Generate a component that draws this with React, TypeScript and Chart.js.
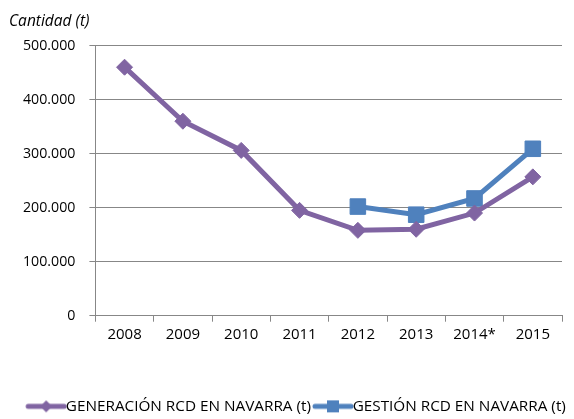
import React, { useEffect, useRef } from 'react';
import { Chart, registerables } from 'chart.js';

Chart.register(...registerables);

const categories = ['2008', '2009', '2010', '2011', '2012', '2013', '2014*', '2015'];
const generacion = [460000, 360000, 306000, 195000, 158000, 160000, 190000, 257000];
const gestion = [null, null, null, null, 202000, 187000, 217000, 309000];
const seriesNames = ['GENERACIÓN RCD EN NAVARRA (t)', 'GESTIÓN RCD EN NAVARRA (t)'];
const axisTitle = 'Cantidad (t)';

const PURPLE = '#8064A2';
const BLUE = '#4F81BD';
const GRID = '#878787';
const FONT = "'Open Sans', sans-serif";

function fmt(v: number) {
  return String(Math.round(v)).replace(/\B(?=(\d{3})+(?!\d))/g, '.');
}

function legendIcon(color: string, shape: 'diamond' | 'square') {
  const c = document.createElement('canvas');
  c.width = 56;
  c.height = 14;
  const ctx = c.getContext('2d')!;
  ctx.strokeStyle = color;
  ctx.fillStyle = color;
  ctx.lineWidth = 5;
  ctx.lineCap = 'round';
  ctx.beginPath();
  ctx.moveTo(12, 7);
  ctx.lineTo(48, 7);
  ctx.stroke();
  ctx.beginPath();
  const cx = 30;
  if (shape === 'diamond') {
    ctx.moveTo(cx - 6, 7);
    ctx.lineTo(cx, 1);
    ctx.lineTo(cx + 6, 7);
    ctx.lineTo(cx, 13);
    ctx.closePath();
  } else {
    ctx.rect(cx - 6, 1, 12, 12);
  }
  ctx.fill();
  return c;
}

const legendShift = {
  id: 'legendShift',
  afterLayout(chart: any) {
    const lg = chart.legend;
    if (lg) {
      lg.left += 12;
      lg.right += 12;
      lg.top += 5;
      lg.bottom += 5;
    }
  },
};

export default function App() {
  const ref = useRef<HTMLCanvasElement>(null);
  useEffect(() => {
    const icons = [legendIcon(PURPLE, 'diamond'), legendIcon(BLUE, 'square')];
    const chart = new Chart(ref.current!, {
      type: 'line',
      plugins: [legendShift],
      data: {
        labels: categories,
        datasets: [
          {
            label: seriesNames[0],
            data: generacion,
            borderColor: PURPLE,
            backgroundColor: PURPLE,
            borderWidth: 5,
            pointStyle: 'rectRot',
            pointRadius: 8,
            pointBorderWidth: 1,
            tension: 0,
          },
          {
            label: seriesNames[1],
            data: gestion,
            borderColor: BLUE,
            backgroundColor: BLUE,
            borderWidth: 5,
            pointStyle: 'rect',
            pointRadius: 11,
            pointBorderWidth: 1,
            tension: 0,
          },
        ],
      },
      options: {
        animation: false,
        responsive: false,
        maintainAspectRatio: false,
        layout: { padding: { left: 9, right: 11, top: 0, bottom: 0 } },
        plugins: {
          title: {
            display: true,
            text: axisTitle,
            align: 'start',
            color: '#000',
            font: { family: FONT, size: 15.5, style: 'italic', weight: 'normal' },
            padding: { top: 12, bottom: 15 },
          },
          legend: {
            position: 'bottom',
            labels: {
              usePointStyle: true,
              pointStyleWidth: 28,
              color: '#000',
              font: { family: FONT, size: 15.3 },
              padding: 6,
              generateLabels: (ch: any) =>
                ch.data.datasets.map((ds: any, i: number) => ({
                  text: ds.label,
                  pointStyle: icons[i],
                  fillStyle: ds.backgroundColor,
                  strokeStyle: ds.borderColor,
                  lineWidth: 0,
                  hidden: false,
                  datasetIndex: i,
                  fontColor: '#000',
                })),
            },
          },
          tooltip: { enabled: false },
        },
        scales: {
          x: {
            offset: true,
            afterFit: (scale: any) => {
              scale.height += 40;
            },
            grid: {
              display: true,
              offset: true,
              drawOnChartArea: false,
              color: GRID,
              tickLength: 6,
            },
            border: { color: GRID, width: 1 },
            ticks: { color: '#000', font: { family: FONT, size: 15 }, padding: 4, maxRotation: 0 },
          },
          y: {
            min: 0,
            max: 500000,
            grid: { color: GRID, lineWidth: 1, tickLength: 6 },
            border: { color: GRID, width: 1 },
            ticks: {
              stepSize: 100000,
              color: '#000',
              font: { family: FONT, size: 14.2 },
              padding: 14,
              callback: (v: any) => fmt(Number(v)),
            },
          },
        },
      },
    });
    return () => chart.destroy();
  }, []);
  return (
    <div style={{ position: 'fixed', left: 0, top: 0, width: 574, height: 419, background: '#fff' }}>
      <canvas ref={ref} width={574} height={419} style={{ width: 574, height: 419 }} />
    </div>
  );
}
